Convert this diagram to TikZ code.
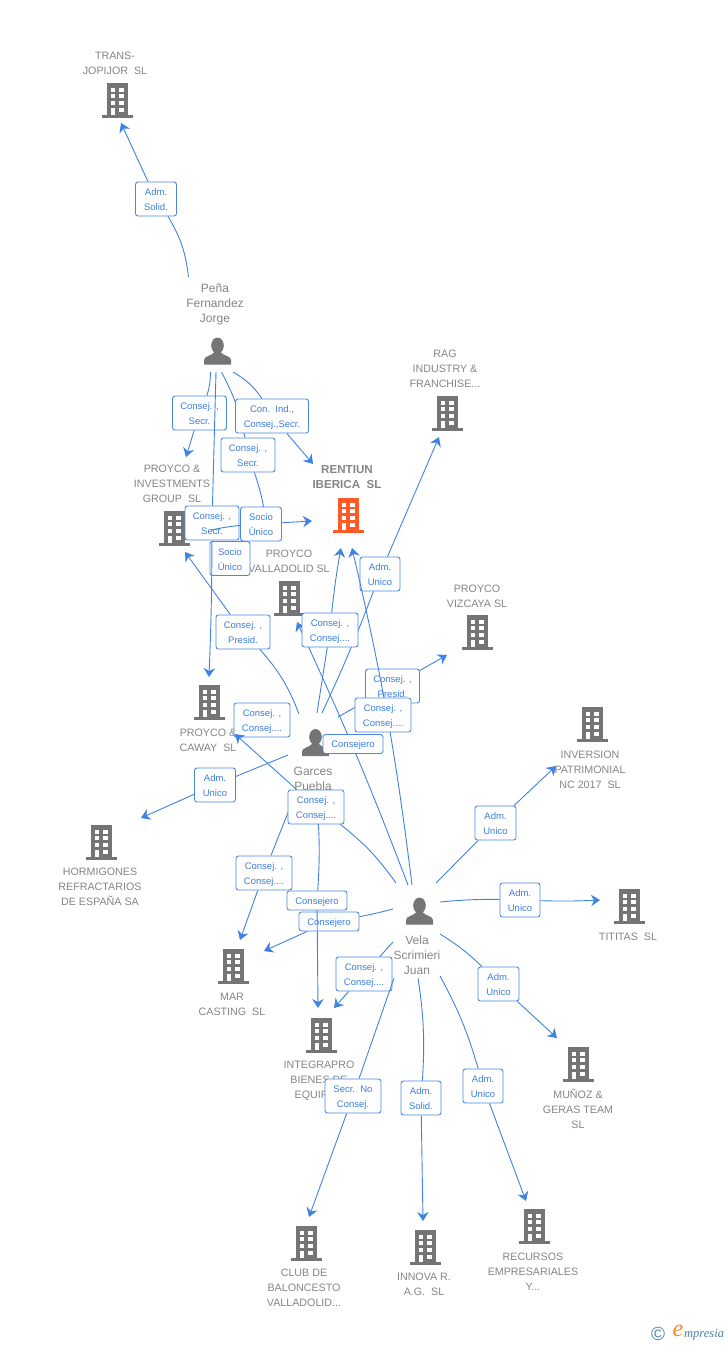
\documentclass[tikz,border=0pt]{standalone}
\usepackage{fontspec}
\setmainfont{Liberation Sans}
\newfontfamily\logofont{Liberation Serif}
\usetikzlibrary{arrows.meta}
\definecolor{linkblue}{HTML}{3F82E2}
\definecolor{boxblue}{HTML}{4A88E2}
\definecolor{labblue}{HTML}{3C7FDC}
\definecolor{namegrey}{HTML}{858585}
\definecolor{icongrey}{HTML}{757575}
\definecolor{iconorange}{HTML}{FF5B26}
\definecolor{logoteal}{HTML}{4A80A0}
\definecolor{logoorange}{HTML}{F28C1E}
\tikzset{
  link/.style={draw=linkblue,line width=.9pt},
  linkto/.style={link,-{Stealth[length=9pt,width=11.5pt,inset=3pt]}},
  lab/.style={draw=boxblue,line width=.9pt,fill=white,rounded corners=2.5pt,align=center,text=labblue,
    minimum height=34pt,inner sep=0pt,text height=25pt,text depth=2pt,font=\fontsize{9.5}{15}\selectfont},
  labone/.style={lab,minimum width=60pt,minimum height=19pt,text height=9pt},
  nametxt/.style={align=center,text=namegrey,inner sep=0pt,font=\fontsize{10.7}{15}\selectfont},
  prstxt/.style={align=center,text=namegrey,inner sep=0pt,font=\fontsize{12}{15}\selectfont},
  spot/.style={inner sep=0pt,minimum size=30pt},
  pics/building/.style={code={
     \fill[#1] (-10.5,-17) rectangle (10.5,15);
     \fill[#1] (-15.5,15) rectangle (15.5,18);
     \fill[white] (-6.8,-12.3) rectangle (-2.5,-8.3);
     \fill[white] (1.8,-12.3) rectangle (6.8,-8.3);
     \fill[white] (-6.8,-5.7) rectangle (-2.5,-1.7);
     \fill[white] (1.8,-5.7) rectangle (6.8,-1.7);
     \fill[white] (-6.8,1) rectangle (-2.5,5);
     \fill[white] (1.8,1) rectangle (6.8,5);
     \fill[white] (-6.8,7.7) rectangle (-2.5,15);
     \fill[white] (1.8,7.7) rectangle (6.8,11.7);
  }},
  pics/person/.style={code={
     \fill[icongrey] (0,-5.5) ellipse (6.3 and 8);
     \fill[icongrey] (-13.5,13.5) -- (-13.5,9) .. controls (-13.5,5) and (-6,5) .. (-3,1) -- (3,1) .. controls (6,5) and (13.5,5) .. (13.5,9) -- (13.5,13.5) -- cycle;
  }}
}
\begin{document}
\begin{tikzpicture}[x=1pt,y=-1pt]
     \useasboundingbox (0,0) rectangle (728,1345);

     \node[spot] (trans) at (117.5,100) {};
     \node[spot] (rag) at (447.5,413) {};
     \node[spot] (invest) at (174.5,528) {};
     \node[spot] (rentiun) at (348.5,515) {};
     \node[spot] (vallad) at (289.5,598) {};
     \node[spot] (vizcaya) at (477.5,632) {};
     \node[spot] (caway) at (209.5,702) {};
     \node[spot] (inversion) at (592.5,724) {};
     \node[spot] (hormig) at (101.5,842) {};
     \node[spot] (tititas) at (629.5,906) {};
     \node[spot] (mar) at (233.5,966) {};
     \node[spot] (munoz) at (578.5,1064) {};
     \node[spot] (integra) at (321.5,1035) {};
     \node[spot] (club) at (306.5,1243) {};
     \node[spot] (innova) at (425.5,1247) {};
     \node[spot] (recursos) at (534.5,1226) {};
     \node[spot] (pena) at (217.5,351) {};
     \node[spot] (garces) at (315.5,742.5) {};
     \node[spot] (vela) at (419.5,911) {};

     \pic at (trans) {building=icongrey};
     \pic at (rag) {building=icongrey};
     \pic at (invest) {building=icongrey};
     \pic at (rentiun) {building=iconorange};
     \pic at (vallad) {building=icongrey};
     \pic at (vizcaya) {building=icongrey};
     \pic at (caway) {building=icongrey};
     \pic at (inversion) {building=icongrey};
     \pic at (hormig) {building=icongrey};
     \pic at (tititas) {building=icongrey};
     \pic at (mar) {building=icongrey};
     \pic at (munoz) {building=icongrey};
     \pic at (integra) {building=icongrey};
     \pic at (club) {building=icongrey};
     \pic at (innova) {building=icongrey};
     \pic at (recursos) {building=icongrey};
     \pic at (pena) {person};
     \pic at (garces) {person};
     \pic at (vela) {person};

     \node[nametxt] (transname) at (115,63.5) {TRANS-\\JOPIJOR\ \ SL};
     \node[prstxt] (penaname) at (215,304) {Peña\\Fernandez\\Jorge};
     \node[nametxt] (ragname) at (445,369) {RAG\\INDUSTRY \&\\FRANCHISE...};
     \node[nametxt] (investname) at (172,484) {PROYCO \&\\INVESTMENTS\\GROUP\ \ SL};
     \node[nametxt,font=\fontsize{11.6}{15}\selectfont\bfseries] (rentiunname) at (347,477) {RENTIUN\\IBERICA\ \ SL};
     \node[nametxt] (valladname) at (289,561.5) {PROYCO\\VALLADOLID SL};
     \node[nametxt] (vizcayaname) at (477,596.5) {PROYCO\\VIZCAYA SL};
     \node[nametxt] (cawayname) at (208,740.5) {PROYCO \&\\CAWAY\ \ SL};
     \node[nametxt] (inversionname) at (590,770) {INVERSION\\PATRIMONIAL\\NC 2017\ \ SL};
     \node[prstxt] (garcesname) at (313,778.5) {Garces\\Puebla};
     \node[nametxt] (hormigname) at (100,887) {HORMIGONES\\REFRACTARIOS\\DE ESPAÑA SA};
     \node[prstxt] (velaname) at (417,955) {Vela\\Scrimieri\\Juan};
     \node[nametxt] (tititasname) at (628,936.5) {TITITAS\ \ SL};
     \node[nametxt] (marname) at (232,1004.5) {MAR\\CASTING\ \ SL};
     \node[nametxt] (integraname) at (319,1081) {INTEGRAPRO\\BIENES DE\\EQUIPOS};
     \node[nametxt] (munozname) at (578,1109) {MUÑOZ \&\\GERAS TEAM\\SL};
     \node[nametxt] (clubname) at (304,1288) {CLUB DE\\BALONCESTO\\VALLADOLID...};
     \node[nametxt] (innovaname) at (424,1284) {INNOVA R.\\A.G.\ \ SL};
     \node[nametxt] (recursosname) at (533,1272) {RECURSOS\\EMPRESARIALES\\Y...};

     \node[lab,minimum width=41pt] (admtrans) at (156,199) {Adm.\\Solid.};
     \draw[link] ([shift={(-29,-74)}]pena.center) to[bend right=12] (admtrans);
     \draw[linkto] (admtrans) -- ([shift={(3.5,23)}]trans.center);

     \node[lab,minimum width=54pt] (consinvest) at (199.5,413) {Consej. ,\\Secr.};
     \draw[link] ([shift={(-7,21)}]pena.center) to[bend left=8] (consinvest);
     \draw[linkto] (consinvest) -- ([shift={(11.5,-71)}]invest.center);

     \node[lab,minimum width=40pt] (sociocaway) at (230,558.5) {Socio\\Único};
     \node[lab,minimum width=54pt] (conscaway) at (212,523) {Consej. ,\\Secr.};
     \draw[link] ([shift={(-1.5,21)}]pena.center) -- (conscaway);
     \draw[linkto] (conscaway) to[bend left=1] ([shift={(-.5,-25)}]caway.center);

     \node[lab,minimum width=54pt] (consvallad) at (248,455) {Consej. ,\\Secr.};
     \draw[link] ([shift={(4,21)}]pena.center) to[bend left=8] (consvallad);
     \draw[link] (consvallad) to[bend left=6] ([shift={(-23,-70)}]vallad.center);

     \node[lab,minimum width=73pt] (conindrent) at (272,416) {Con.\ \ Ind.,\\Consej.,Secr.};
     \draw[link] ([shift={(15.5,21)}]pena.center) to[bend left=12] (conindrent);
     \draw[linkto] (conindrent) -- ([shift={(-35.5,-51)}]rentiun.center);

     \node[lab,minimum width=41pt] (sociorent) at (261,524) {Socio\\Único};
     \draw[link] ([shift={(36.5,2)}]invest.center) to[bend left=3] (sociorent);
     \draw[linkto] (sociorent) -- ([shift={(-36.5,6)}]rentiun.center);

     \node[lab,minimum width=54pt] (consprinv) at (243,632) {Consej. ,\\Presid.};
     \draw[link] ([shift={(-16.5,-28.5)}]garces.center) to[bend right=10] (consprinv);
     \draw[linkto] (consprinv) -- ([shift={(10.5,24)}]invest.center);

     \node[lab,minimum width=40pt] (admrag) at (380,574) {Adm.\\Unico};
     \draw[link] ([shift={(6.5,-29.5)}]garces.center) to[bend right=2] (admrag);
     \draw[linkto] (admrag) -- ([shift={(-8.5,24)}]rag.center);

     \draw[linkto] ([shift={(-11.5,-26)}]vela.center) to[bend right=2] ([shift={(7.5,24)}]vallad.center);
     \node[labone] (consejvallad) at (353,744) {Consejero};

     \node[lab,minimum width=56pt] (consrent) at (330,630) {Consej. ,\\Consej....};
     \draw[link] ([shift={(1.5,-29.5)}]garces.center) -- (consrent);
     \draw[linkto] (consrent) to[bend left=2] ([shift={(-7.5,33)}]rentiun.center);

     \node[lab,minimum width=54pt] (consviz) at (392.5,686) {Consej. ,\\Presid.};
     \draw[link] ([shift={(22.5,-25.5)}]garces.center) -- (consviz);
     \draw[linkto] (consviz) -- ([shift={(-30.5,23)}]vizcaya.center);

     \draw[linkto] ([shift={(-7.5,-26)}]vela.center) to[bend right=3] ([shift={(3.5,33)}]rentiun.center);
     \node[lab,minimum width=56pt] (consrenttwo) at (383,715) {Consej. ,\\Consej....};

     \node[lab,minimum width=41pt] (admhorm) at (215,785) {Adm.\\Unico};
     \draw[link] ([shift={(-27.5,12.5)}]garces.center) -- (admhorm);
     \draw[linkto] (admhorm) -- ([shift={(39.5,-24)}]hormig.center);

     \node[lab,minimum width=56pt] (conscawtwo) at (262,720) {Consej. ,\\Consej....};

     \node[lab,minimum width=56pt] (consmar) at (264,873) {Consej. ,\\Consej....};
     \draw[link] ([shift={(-18.5,47.5)}]garces.center) -- (consmar);
     \draw[linkto] (consmar) -- ([shift={(6.5,-26)}]mar.center);

     \node[labone] (consejint) at (317,900.5) {Consejero};
     \draw[link] ([shift={(0,50)}]garces.center) to[bend left=5] (consejint);

     \node[labone] (consejmar) at (329,921.5) {Consejero};
     \draw[link] ([shift={(-26.5,-2)}]vela.center) to[bend left=2] (consejmar);
     \draw[linkto] (consejmar) -- ([shift={(30.5,-15)}]mar.center);
     \draw[linkto] (consejint) -- ([shift={(-3.5,-27)}]integra.center);

     \node[lab,minimum width=56pt] (conscawthree) at (316,807) {Consej. ,\\Consej....};
     \draw[link] ([shift={(-23.5,-28)}]vela.center) to[bend right=8] (conscawthree);
     \draw[linkto] (conscawthree) -- ([shift={(25.5,32)}]caway.center);

     \node[lab,minimum width=41pt] (adminv) at (495.5,823) {Adm.\\Unico};
     \draw[link] ([shift={(16.5,-28)}]vela.center) -- (adminv);
     \draw[linkto] (adminv) -- ([shift={(-36.5,42)}]inversion.center);

     \node[lab,minimum width=40pt] (admtit) at (520,900) {Adm.\\Unico};
     \draw[link] ([shift={(20.5,-9)}]vela.center) to[bend left=3] (admtit);
     \draw[linkto] (admtit) to[bend right=2] ([shift={(-29.5,-6)}]tititas.center);

     \node[lab,minimum width=41pt] (admmun) at (498.5,984) {Adm.\\Unico};
     \draw[link] ([shift={(20.5,23)}]vela.center) to[bend left=6] (admmun);
     \draw[linkto] (admmun) -- ([shift={(-21.5,-26)}]munoz.center);

     \node[lab,minimum width=56pt] (consint) at (364,974) {Consej. ,\\Consej....};
     \draw[link] ([shift={(-26.5,31)}]vela.center) -- (consint);
     \draw[linkto] (consint) -- ([shift={(12.5,-27)}]integra.center);

     \node[lab,minimum width=56pt] (secrclub) at (353,1096) {Secr.\ \ No\\Consej.};
     \draw[link] ([shift={(-25.5,67)}]vela.center) -- (secrclub);
     \draw[linkto] (secrclub) -- ([shift={(2.5,-26)}]club.center);

     \node[lab,minimum width=40pt] (adminn) at (421,1098) {Adm.\\Solid.};
     \draw[link] ([shift={(-1.5,67)}]vela.center) to[bend left=6] (adminn);
     \draw[linkto] (adminn) -- ([shift={(-2.5,-26)}]innova.center);

     \node[lab,minimum width=40pt] (admrec) at (483,1086) {Adm.\\Unico};
     \draw[link] ([shift={(20.5,65)}]vela.center) to[bend left=6] (admrec);
     \draw[linkto] (admrec) -- ([shift={(-8.5,-25)}]recursos.center);

     \node[inner sep=0pt,text=logoteal,font=\fontsize{19}{19}\selectfont] (logosign) at (658,1333.5) {©};
     \node[inner sep=0pt,text=logoorange,font=\fontsize{24}{24}\logofont\itshape] (logoe) at (678,1331) {e};
     \node[inner sep=0pt,anchor=west,text=logoteal,font=\fontsize{12.5}{12.5}\logofont\itshape] (logotxt) at (684,1335) {mpresia};
\end{tikzpicture}
\end{document}
